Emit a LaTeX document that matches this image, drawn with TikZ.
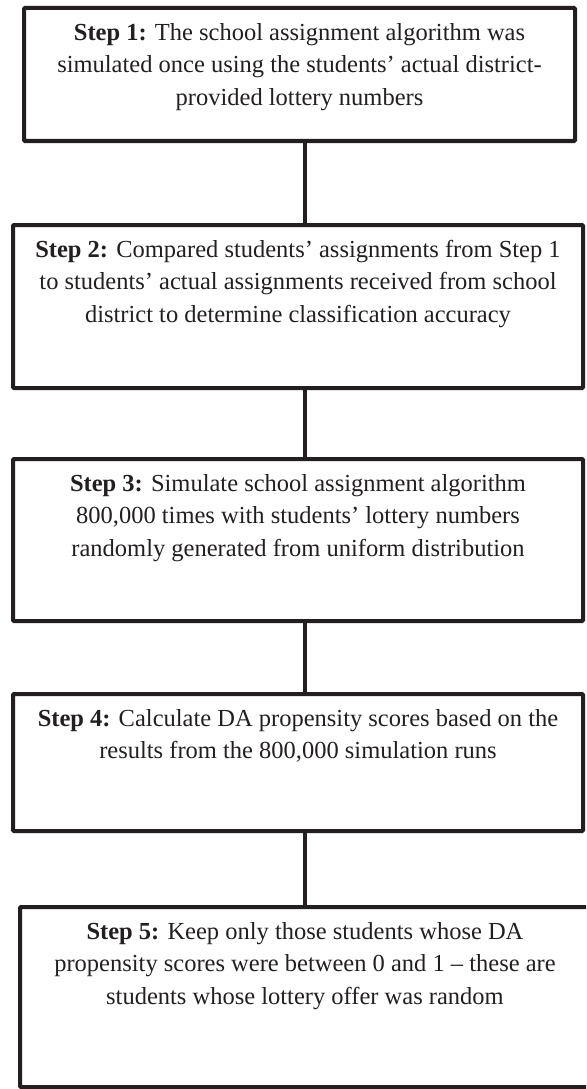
\documentclass[tikz,border=0pt]{standalone}
\usepackage{fontspec}
\setmainfont{Liberation Serif}
\usetikzlibrary{positioning}
\definecolor{FlowInk}{HTML}{231F20}
\newcommand{\stepfont}{\fontsize{24.5}{32.5}\selectfont}

\begin{document}
\begin{tikzpicture}[x=1pt, y=-1pt, font=\stepfont,
    stepbox/.style={draw=FlowInk, line width=4pt, rounded corners=1pt,
                    inner sep=0pt, outer sep=0pt},
    steptext/.style={text=FlowInk, align=center, inner sep=0pt},
    link/.style={draw=FlowInk, line width=3.5pt}]
    % page frame (step 5 box runs off the right and bottom)
    \clip (0,0) rectangle (586,1089);
    % step boxes
    \node[stepbox, minimum width=551, minimum height=133] (s1) at (299.5,74.5) {};
    \node[stepbox, minimum width=570, minimum height=163] (s2) at (298,306.5) {};
    \node[stepbox, minimum width=570, minimum height=162] (s3) at (298,540) {};
    \node[stepbox, minimum width=570, minimum height=137] (s4) at (298,762.5) {};
    \node[stepbox, minimum width=570, minimum height=180] (s5) at (305,997) {};
    % texts, hung from the top of each box
    \node[steptext, below=15pt of s1.north] (t1)
        {\textbf{Step 1:} The school assignment algorithm was\\
         simulated once using the students’ actual district-\\
         provided lottery numbers};
    \node[steptext, below=15pt of s2.north] (t2)
        {\textbf{Step 2:} Compared students’ assignments from Step 1\\
         to students’ actual assignments received from school\\
         district to determine classification accuracy};
    \node[steptext, below=15pt of s3.north] (t3)
        {\textbf{Step 3:} Simulate school assignment algorithm\\
         800,000 times with students’ lottery numbers\\
         randomly generated from uniform distribution};
    \node[steptext, below=15pt of s4.north] (t4)
        {\textbf{Step 4:} Calculate DA propensity scores based on the\\
         results from the 800,000 simulation runs};
    \node[steptext, below=15pt of s5.north] (t5)
        {\textbf{Step 5:} Keep only those students whose DA\\
         propensity scores were between 0 and 1 -- these are\\
         students whose lottery offer was random};
    % connectors down the spine
    \coordinate (spine) at (305,0);
    \foreach \a/\b in {s1/s2, s2/s3, s3/s4, s4/s5}
        \draw[link] (\a.south -| spine) -- (\b.north -| spine);
\end{tikzpicture}
\end{document}
